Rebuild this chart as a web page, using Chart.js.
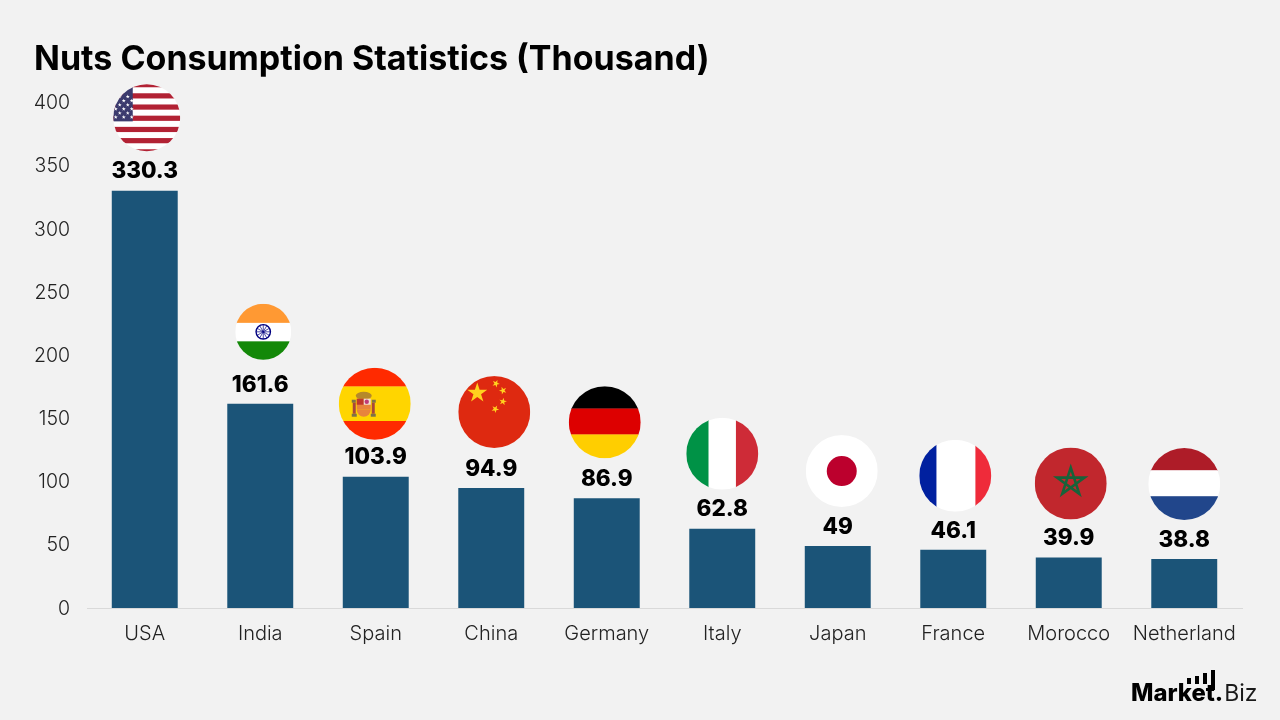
<!DOCTYPE html>
<html>
<head>
<meta charset="utf-8">
<title>Nuts Consumption Statistics</title>
<script src="https://cdn.jsdelivr.net/npm/chart.js@4"></script>
<style>
  html, body { margin: 0; padding: 0; background: #f2f2f2; }
  canvas { display: block; }
</style>
</head>
<body>
<canvas id="graficoNozes" width="1280" height="720"></canvas>
<script>
const countries = ['USA', 'India', 'Spain', 'China', 'Germany', 'Italy', 'Japan', 'France', 'Morocco', 'Netherland'];
const consumption = [330.3, 161.6, 103.9, 94.9, 86.9, 62.8, 49, 46.1, 39.9, 38.8];
const yTicks = [0, 50, 100, 150, 200, 250, 300, 350, 400];

const titleText = 'Nuts Consumption Statistics (Thousand)';
const fontName = 'Inter, "Open Sans", sans-serif';

// badge placement relative to the top of each bar: dx, rise, radius
const badgeSpots = {
  USA: [2, 73, 33.5],
  India: [3, 72, 28],
  Spain: [-1, 73, 36],
  China: [3, 76, 36],
  Germany: [-2, 76, 36],
  Italy: [0, 75, 36],
  Japan: [4, 75, 36],
  France: [2, 74, 36],
  Morocco: [2, 74, 36],
  Netherland: [0, 75, 36]
};

function star(ctx, x, y, outer, turn, color) {
  const inner = outer * 0.382;
  ctx.beginPath();
  for (let i = 0; i < 10; i++) {
    const rad = i % 2 ? inner : outer;
    const a = -Math.PI / 2 + turn + i * Math.PI / 5;
    ctx.lineTo(x + Math.cos(a) * rad, y + Math.sin(a) * rad);
  }
  ctx.closePath();
  ctx.fillStyle = color;
  ctx.fill();
}

function hBands(ctx, r, bands) {
  // bands: [color, top, bottom] in fractions of the diameter
  bands.forEach(b => {
    ctx.fillStyle = b[0];
    ctx.fillRect(-r, -r + b[1] * 2 * r, 2 * r, (b[2] - b[1]) * 2 * r + 0.3);
  });
}

function vBands(ctx, r, bands) {
  bands.forEach(b => {
    ctx.fillStyle = b[0];
    ctx.fillRect(-r + b[1] * 2 * r, -r, (b[2] - b[1]) * 2 * r + 0.3, 2 * r);
  });
}

const flagPainters = {
  USA(ctx, r) {
    ctx.fillStyle = '#ffffff';
    ctx.fillRect(-r, -r, 2 * r, 2 * r);
    ctx.fillStyle = '#b22234';
    for (let k = -3; k <= 3; k++) {
      ctx.fillRect(-r, k * 11.2 + 0.7 - 2.7, 2 * r, 5.2);
    }
    ctx.fillStyle = '#3c3b6e';
    ctx.fillRect(-r, -r, 19.5, r + 3.7);
    for (let row = 0; row < 6; row++) {
      const first = row % 2 ? -31 : -27;
      for (let sx = first; sx < -14; sx += 8) {
        star(ctx, sx, -21 + row * 4.1, 2.1, 0, '#ffffff');
      }
    }
  },
  India(ctx, r) {
    hBands(ctx, r, [['#ff9933', 0, 0.34], ['#ffffff', 0.34, 0.67], ['#138808', 0.67, 1]]);
    ctx.strokeStyle = '#000080';
    ctx.lineWidth = 1.4;
    ctx.beginPath();
    ctx.arc(0, 0, 7.2, 0, Math.PI * 2);
    ctx.stroke();
    ctx.lineWidth = 0.7;
    for (let i = 0; i < 12; i++) {
      const a = i * Math.PI / 6;
      ctx.beginPath();
      ctx.moveTo(0, 0);
      ctx.lineTo(Math.cos(a) * 7, Math.sin(a) * 7);
      ctx.stroke();
    }
  },
  Spain(ctx, r) {
    hBands(ctx, r, [['#ff2a00', 0, 0.26], ['#ffd500', 0.26, 0.74], ['#ff2a00', 0.74, 1]]);
    // coat of arms, left of centre
    ctx.fillStyle = '#b5892a';
    ctx.beginPath();
    ctx.ellipse(-11, -8, 8, 4, 0, 0, Math.PI * 2);
    ctx.fill();
    ctx.fillStyle = '#7d7348';
    ctx.fillRect(-23, -4, 4, 3);
    ctx.fillRect(-3, -4, 4, 3);
    ctx.fillRect(-23, 10, 5, 3);
    ctx.fillRect(-4, 10, 5, 3);
    ctx.fillStyle = '#a8473a';
    ctx.fillRect(-22, -1, 3, 11);
    ctx.fillRect(-3, -1, 3, 11);
    ctx.fillStyle = '#e8843c';
    ctx.fillRect(-18, -5, 14, 11);
    ctx.beginPath();
    ctx.arc(-11, 6, 7, 0, Math.PI);
    ctx.fill();
    ctx.fillStyle = '#c0392b';
    ctx.fillRect(-18, -5, 7, 6);
    ctx.fillStyle = '#f0e0d0';
    ctx.fillRect(-11, -5, 7, 6);
    ctx.fillStyle = '#c03c78';
    ctx.beginPath();
    ctx.arc(-8, -2, 2.2, 0, Math.PI * 2);
    ctx.fill();
  },
  China(ctx, r) {
    ctx.fillStyle = '#de2910';
    ctx.fillRect(-r, -r, 2 * r, 2 * r);
    star(ctx, -17, -19, 10.5, 0, '#ffd21e');
    star(ctx, 1.7, -28.5, 4, 0.4, '#ffd21e');
    star(ctx, 8.7, -21.5, 4, 0.9, '#ffd21e');
    star(ctx, 8.7, -10.5, 4, 0.2, '#ffd21e');
    star(ctx, 1, -3, 4, 0.5, '#ffd21e');
  },
  Germany(ctx, r) {
    hBands(ctx, r, [['#000000', 0, 0.31], ['#dd0000', 0.31, 0.67], ['#ffce00', 0.67, 1]]);
  },
  Italy(ctx, r) {
    vBands(ctx, r, [['#009246', 0, 0.31], ['#ffffff', 0.31, 0.69], ['#ce2b37', 0.69, 1]]);
  },
  Japan(ctx, r) {
    ctx.fillStyle = '#ffffff';
    ctx.fillRect(-r, -r, 2 * r, 2 * r);
    ctx.fillStyle = '#bc002d';
    ctx.beginPath();
    ctx.arc(0, 0, 15, 0, Math.PI * 2);
    ctx.fill();
  },
  France(ctx, r) {
    vBands(ctx, r, [['#00209f', 0, 0.24], ['#ffffff', 0.24, 0.78], ['#ef2b3a', 0.78, 1]]);
  },
  Morocco(ctx, r) {
    ctx.fillStyle = '#c1272d';
    ctx.fillRect(-r, -r, 2 * r, 2 * r);
    // interlaced pentagram outline
    ctx.strokeStyle = '#17633a';
    ctx.lineWidth = 2.6;
    ctx.beginPath();
    for (let i = 0; i <= 5; i++) {
      const a = -Math.PI / 2 + i * 4 * Math.PI / 5;
      ctx.lineTo(Math.cos(a) * 14.5, -1.5 + Math.sin(a) * 14.5);
    }
    ctx.closePath();
    ctx.stroke();
  },
  Netherland(ctx, r) {
    hBands(ctx, r, [['#ae1c28', 0, 0.31], ['#ffffff', 0.31, 0.67], ['#21468b', 0.67, 1]]);
  }
};

const extras = {
  id: 'extras',
  afterDatasetsDraw(chart) {
    const ctx = chart.ctx;
    const xAxis = chart.scales.x;
    const yAxis = chart.scales.y;

    countries.forEach((name, i) => {
      const cx = xAxis.getPixelForValue(i);
      const top = yAxis.getPixelForValue(consumption[i]);

      // value label over the bar
      ctx.save();
      ctx.font = '800 22.5px ' + fontName;
      ctx.fillStyle = '#000000';
      ctx.textAlign = 'center';
      ctx.textBaseline = 'middle';
      ctx.fillText(String(consumption[i]), cx, top - 19);
      ctx.restore();

      // round flag above the label
      const spot = badgeSpots[name];
      ctx.save();
      ctx.translate(cx + spot[0], top - spot[1]);
      ctx.beginPath();
      ctx.arc(0, 0, spot[2], 0, Math.PI * 2);
      ctx.clip();
      flagPainters[name](ctx, spot[2]);
      ctx.restore();
    });

    // Market.Biz mark, bottom right
    ctx.save();
    ctx.textAlign = 'left';
    ctx.textBaseline = 'alphabetic';
    ctx.fillStyle = '#000000';
    ctx.font = '800 23.8px ' + fontName;
    ctx.fillText('Market.', 1131, 701);
    const markW = ctx.measureText('Market.').width;
    ctx.font = '400 23px ' + fontName;
    ctx.fillStyle = '#1a1a1a';
    ctx.fillText('Biz', 1131 + markW + 1, 701);
    ctx.fillStyle = '#000000';
    ctx.fillRect(1187, 678, 4, 6);
    ctx.fillRect(1195, 676, 4, 8);
    ctx.fillRect(1203, 673, 4, 11);
    ctx.fillRect(1211, 670, 4, 20);
    ctx.restore();
  }
};

new Chart(document.getElementById('graficoNozes'), {
  type: 'bar',
  data: {
    labels: countries,
    datasets: [{
      data: consumption,
      backgroundColor: '#1b5478',
      borderWidth: 0,
      barPercentage: 0.571,
      categoryPercentage: 1
    }]
  },
  plugins: [extras],
  options: {
    responsive: false,
    animation: false,
    layout: { padding: { left: 34, right: 38, top: 39, bottom: 0 } },
    plugins: {
      legend: { display: false },
      tooltip: { enabled: false },
      title: {
        display: true,
        text: titleText,
        align: 'start',
        color: '#000000',
        font: { family: fontName, size: 34, weight: '700', lineHeight: 1.2 },
        padding: { top: 0, bottom: 22.8 }
      }
    },
    scales: {
      x: {
        grid: { display: false, drawTicks: false },
        border: { color: '#d9d9d9', width: 1 },
        ticks: {
          color: '#222222',
          padding: 14,
          maxRotation: 0,
          autoSkip: false,
          font: { family: fontName, size: 20, weight: '300' }
        },
        afterFit(scale) { scale.height = 112; }
      },
      y: {
        min: yTicks[0],
        max: yTicks[yTicks.length - 1],
        grid: { display: false, drawTicks: false },
        border: { display: false },
        ticks: {
          stepSize: yTicks[1] - yTicks[0],
          color: '#222222',
          padding: 17,
          labelOffset: 0.8,
          font: { family: fontName, size: 19.5, weight: '300' }
        },
        afterFit(scale) { scale.width = 53; }
      }
    }
  }
});
</script>
</body>
</html>
